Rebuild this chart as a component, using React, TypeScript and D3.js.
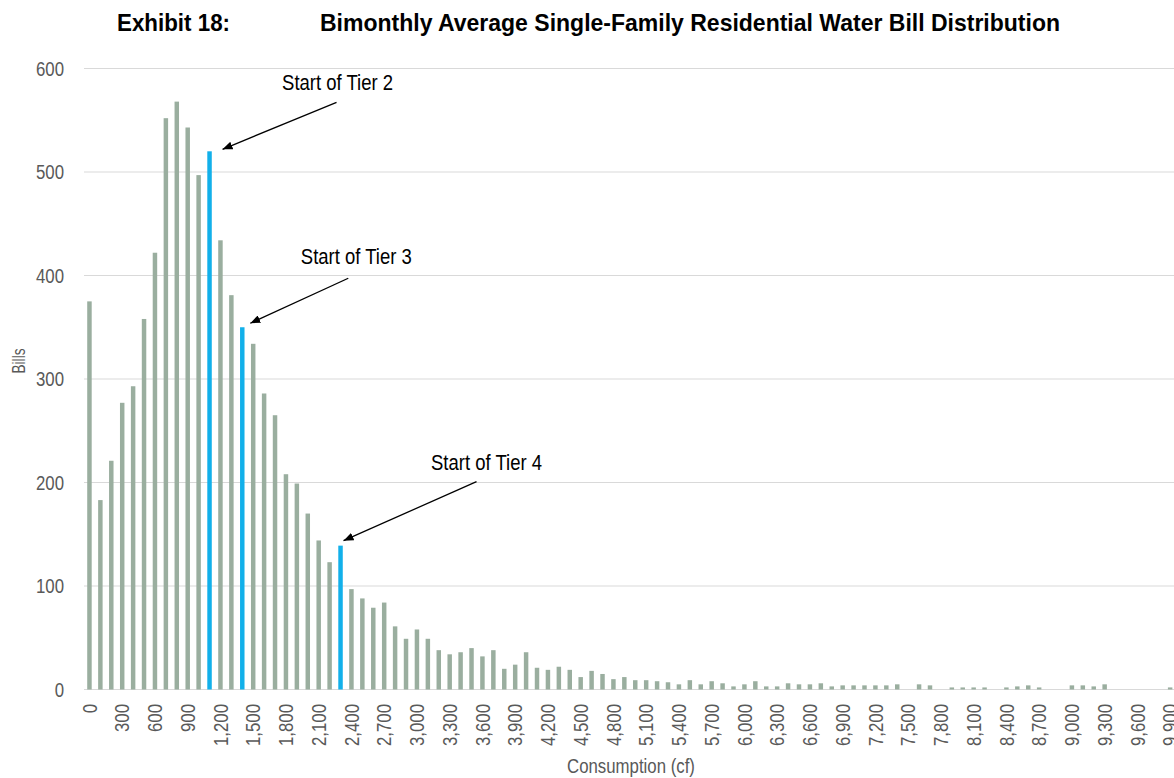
import React from 'react';
import * as d3 from 'd3';

// Bin starts (cf) for each bimonthly consumption bucket
const binStarts: number[] = d3.range(0, 10000, 100);

// Number of bills in each bin
const bills: number[] = [
  375, 183, 221, 277, 293, 358, 422, 552, 568, 543,
  497, 520, 434, 381, 350, 334, 286, 265, 208, 199,
  170, 144, 123, 139, 97, 88, 79, 84, 61, 49,
  58, 49, 38, 34, 36, 40, 32, 38, 20, 24,
  36, 21, 19, 22, 19, 12, 18, 15, 10, 12,
  9, 9, 8, 7, 5, 9, 5, 8, 6, 3,
  5, 8, 3, 3, 6, 5, 5, 6, 3, 4,
  4, 4, 4, 4, 5, 0, 5, 4, 0, 2,
  2, 2, 2, 0, 2, 3, 4, 2, 0, 0,
  4, 4, 3, 5, 0, 0, 0, 0, 0, 2,
];

// Tier boundaries highlighted in the distribution
const tierStarts: number[] = [1100, 1400, 2300];
const tierLabels: string[] = ['Start of Tier 2', 'Start of Tier 3', 'Start of Tier 4'];
// label placement relative to the top of the highlighted bar
const tierLabelOffsets: [number, number][] = [[128, -61], [114, -63], [146, -76]];
// arrow tail relative to label baseline centre, arrow head relative to bar top
const tierTailOffsets: [number, number][] = [[-1, 12], [-8, 14], [-10, 12]];
const tierHeadOffsets: [number, number][] = [[13, -2], [8, -4], [3, -5]];

const yTicks: number[] = [0, 100, 200, 300, 400, 500, 600];
const xTickEvery = 3;

const W = 1174;
const H = 778;
const plotLeft = 84;
const plotRight = 1175.6;
const plotTop = 68.5;
const plotBottom = 689.5;

const FONT = '"Liberation Sans", Arial, sans-serif';
// condensed look of the report typeface
const NARROW = 0.82;
const BAR = '#9aae9f';
const HIGHLIGHT = '#12b0ea';
const GRID = '#d9d9d9';
const TEXT = '#595959';

type NarrowTextProps = {
  x: number;
  y: number;
  rotate?: number;
  sx?: number;
  anchor?: 'start' | 'middle' | 'end';
  dy?: string;
  size: number;
  fill: string;
  weight?: string;
  children: React.ReactNode;
};

function NarrowText({ x, y, rotate = 0, sx = NARROW, anchor = 'start', dy, size, fill, weight, children }: NarrowTextProps) {
  return (
    <text
      transform={`translate(${x},${y}) rotate(${rotate}) scale(${sx},1)`}
      textAnchor={anchor}
      dy={dy}
      fontFamily={FONT}
      fontSize={size}
      fontWeight={weight}
      fill={fill}
    >
      {children}
    </text>
  );
}

export default function App() {
  const x = d3
    .scaleBand<number>()
    .domain(binStarts)
    .range([plotLeft, plotRight])
    .paddingInner(0.59)
    .paddingOuter(0.295);
  const y = d3.scaleLinear().domain([0, 600]).range([plotBottom, plotTop]);
  const fmt = d3.format(',');
  const bw = x.bandwidth();
  const cx = (v: number) => (x(v) as number) + bw / 2;

  return (
    <div style={{ position: 'absolute', left: 0, top: 0, width: W, height: H, overflow: 'hidden', background: '#fff' }}>
      <svg width={W} height={H} style={{ display: 'block' }}>
        <defs>
          <marker id="arrowHead" viewBox="0 0 10 8" refX="10" refY="4" markerWidth="10" markerHeight="8" markerUnits="userSpaceOnUse" orient="auto">
            <path d="M0,0 L10,4 L0,8 Z" fill="#000" />
          </marker>
        </defs>

        {/* Title */}
        <text x={117} y={31} fontFamily={FONT} fontWeight="bold" fontSize={24} fill="#000" textLength={113} lengthAdjust="spacingAndGlyphs">
          Exhibit 18:
        </text>
        <text x={320} y={31} fontFamily={FONT} fontWeight="bold" fontSize={24} fill="#000" textLength={740} lengthAdjust="spacingAndGlyphs">
          Bimonthly Average Single-Family Residential Water Bill Distribution
        </text>

        {/* Gridlines and y labels */}
        {yTicks.map((t) => (
          <g key={t}>
            <line x1={plotLeft} x2={W} y1={y(t)} y2={y(t)} stroke={GRID} strokeWidth={1.2} />
            <NarrowText x={64} y={y(t)} dy="0.35em" anchor="end" size={20.5} fill={TEXT}>
              {t}
            </NarrowText>
          </g>
        ))}

        {/* Bars */}
        {binStarts.map((b, i) => (
          <rect
            key={b}
            x={x(b)}
            y={y(bills[i])}
            width={bw}
            height={y(0) - y(bills[i])}
            fill={tierStarts.includes(b) ? HIGHLIGHT : BAR}
          />
        ))}

        {/* x tick labels */}
        {binStarts
          .filter((_, i) => i % xTickEvery === 0)
          .map((b) => (
            <NarrowText key={b} x={cx(b)} y={704} rotate={-90} dy="0.35em" anchor="end" size={20.5} fill={TEXT}>
              {fmt(b)}
            </NarrowText>
          ))}

        {/* Axis titles */}
        <NarrowText x={631} y={773} anchor="middle" size={20.5} fill={TEXT}>
          Consumption (cf)
        </NarrowText>
        <NarrowText x={19} y={361} rotate={-90} sx={0.76} dy="0.35em" anchor="middle" size={18} fill={TEXT}>
          Bills
        </NarrowText>

        {/* Tier annotations */}
        {tierStarts.map((t, k) => {
          const i = binStarts.indexOf(t);
          const bx = cx(t);
          const by = y(bills[i]);
          const lx = bx + tierLabelOffsets[k][0];
          const ly = by + tierLabelOffsets[k][1];
          return (
            <g key={t}>
              <NarrowText x={lx} y={ly} sx={0.86} anchor="middle" size={21.5} fill="#000">
                {tierLabels[k]}
              </NarrowText>
              <line
                x1={lx + tierTailOffsets[k][0]}
                y1={ly + tierTailOffsets[k][1]}
                x2={bx + tierHeadOffsets[k][0]}
                y2={by + tierHeadOffsets[k][1]}
                stroke="#000"
                strokeWidth={1.3}
                markerEnd="url(#arrowHead)"
              />
            </g>
          );
        })}
      </svg>
    </div>
  );
}
